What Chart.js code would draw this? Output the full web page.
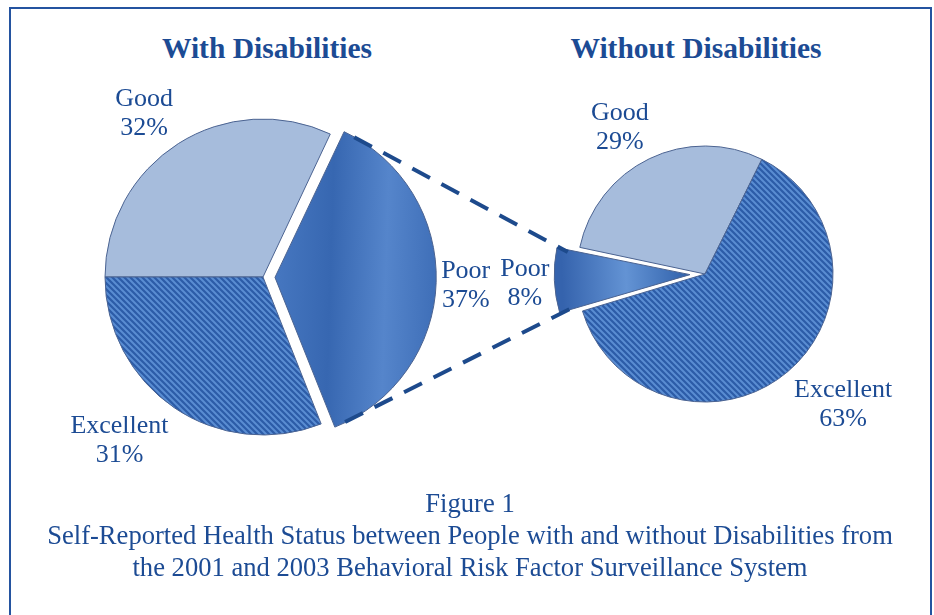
<!DOCTYPE html>
<html lang="en">
<head>
<meta charset="UTF-8">
<title>Self-Reported Health Status</title>
<script src="https://cdn.jsdelivr.net/npm/chart.js"></script>
<style>
  body { margin: 0; background: #fff; font-family: 'Liberation Serif', 'Times New Roman', serif; color: #1c4b94; }
  #page { position: relative; width: 934px; height: 615px; overflow: hidden; }
  #frame { position: absolute; left: 9px; top: 7px; width: 919px; height: 650px; border: 2px solid #2453a0; border-bottom: none; }
  .layer { position: absolute; left: 0; top: 0; width: 934px; height: 615px; }
  .title { position: absolute; top: 32px; font-size: 29.5px; font-weight: bold; white-space: nowrap; transform: translateX(-50%); }
  #caption { position: absolute; left: 9px; width: 922px; top: 487px; text-align: center; font-size: 26.6px; line-height: 32px; }
</style>
</head>
<body>
<div id="page">
  <div id="frame"></div>
  <div class="title" style="left:267px">With Disabilities</div>
  <div class="title" style="left:696px">Without Disabilities</div>
  <div class="layer"><canvas id="leftPie"></canvas></div>
  <div class="layer"><canvas id="rightPie"></canvas></div>
  <div id="caption">Figure 1<br>Self-Reported Health Status between People with and without Disabilities from<br>the 2001 and 2003 Behavioral Risk Factor Surveillance System</div>
</div>

<script>
  // data, clockwise from the start angle of each pie
  const withLabels = ['Good', 'Poor', 'Excellent'];
  const withValues = [32, 37, 31];
  const withoutLabels = ['Good', 'Excellent', 'Poor'];
  const withoutValues = [29, 63, 8];

  const textColor = '#1c4b94';
  const goodColor = '#a6bcdc';
  const edgeColor = '#4b6391';

  // diagonal hatch used for "Excellent"
  function makeHatch() {
    const c = document.createElement('canvas');
    c.width = 6; c.height = 6;
    const g = c.getContext('2d');
    g.fillStyle = '#2c5ca8';
    g.fillRect(0, 0, 6, 6);
    g.strokeStyle = '#5a8dd2';
    g.lineWidth = 2;
    g.beginPath();
    g.moveTo(-3, -3); g.lineTo(9, 9);
    g.moveTo(-3, 3); g.lineTo(3, 9);
    g.moveTo(3, -3); g.lineTo(9, 3);
    g.stroke();
    return g.createPattern(c, 'repeat');
  }
  const hatch = makeHatch();

  function midAngle(chart, index) {
    const data = chart.data.datasets[0].data;
    const total = data.reduce((a, b) => a + b, 0);
    let start = (chart.options.rotation - 90) * Math.PI / 180;
    for (let i = 0; i < index; i++) start += data[i] / total * 2 * Math.PI;
    return start + data[index] / total * Math.PI;
  }

  function fillFor(stops) {
    return function (ctx) {
      const chart = ctx.chart;
      const name = chart.data.labels[ctx.dataIndex];
      if (name === 'Good') return goodColor;
      if (name === 'Excellent') return hatch;
      const area = chart.chartArea;
      if (!area) return '#4a7cc4';
      const cx = (area.left + area.right) / 2;
      const cy = (area.top + area.bottom) / 2;
      const r = chart.options.radius;
      const a = midAngle(chart, ctx.dataIndex);
      const grad = chart.ctx.createLinearGradient(cx, cy, cx + Math.cos(a) * r, cy + Math.sin(a) * r);
      stops.forEach(s => grad.addColorStop(s[0], s[1]));
      return grad;
    };
  }

  const clamp1 = v => Math.max(-1, Math.min(1, v));

  // how far an exploded slice is pushed out, and how much its radius grows
  function explode(arc) {
    const t = (arc.options.offset || 0) / 4;
    const fix = 1 - Math.sin(Math.min(Math.PI, arc.circumference));
    return { t: t, grow: t * fix };
  }

  // "Good / 32%" labels just outside each slice
  const sliceLabels = {
    id: 'sliceLabels',
    afterDatasetsDraw(chart) {
      const ctx = chart.ctx;
      const meta = chart.getDatasetMeta(0);
      const values = chart.data.datasets[0].data;
      ctx.save();
      ctx.font = '26px "Liberation Serif", "Times New Roman", serif';
      ctx.fillStyle = textColor;
      ctx.textAlign = 'center';
      ctx.textBaseline = 'alphabetic';
      meta.data.forEach((arc, i) => {
        const lines = [chart.data.labels[i], values[i] + '%'];
        const w = Math.max(...lines.map(s => ctx.measureText(s).width));
        const h = 47;
        const mid = (arc.startAngle + arc.endAngle) / 2;
        const cos = Math.cos(mid), sin = Math.sin(mid);
        const ex = explode(arc);
        const dist = arc.outerRadius + ex.t + ex.grow + (ex.t ? 5 : 10);
        const bx = arc.x + cos * dist + w / 2 * clamp1(cos * 2);
        const by = arc.y + sin * dist + h / 2 * clamp1(sin * 2);
        ctx.fillText(lines[0], bx, by - 6);
        ctx.fillText(lines[1], bx, by + 23);
      });
      ctx.restore();
    }
  };

  function corners(arc) {
    const mid = (arc.startAngle + arc.endAngle) / 2;
    const ex = explode(arc);
    const r = arc.outerRadius + ex.grow;
    const ox = arc.x + Math.cos(mid) * ex.t, oy = arc.y + Math.sin(mid) * ex.t;
    return [arc.startAngle, arc.endAngle]
      .map(a => ({ x: ox + Math.cos(a) * r, y: oy + Math.sin(a) * r }))
      .sort((p, q) => p.y - q.y);
  }

  function pieConfig(labels, values, rotation, radius, padding, offsets, stops, plugins) {
    return {
      type: 'pie',
      data: {
        labels: labels,
        datasets: [{
          data: values,
          backgroundColor: fillFor(stops),
          borderColor: edgeColor,
          borderWidth: 1,
          offset: offsets,
          hoverOffset: 0
        }]
      },
      options: {
        responsive: true,
        maintainAspectRatio: false,
        animation: false,
        events: [],
        rotation: rotation,
        radius: radius,
        layout: { padding: padding },
        plugins: { legend: { display: false }, tooltip: { enabled: false } }
      },
      plugins: plugins
    };
  }

  const leftChart = new Chart(document.getElementById('leftPie'), pieConfig(
    withLabels, withValues, 270, 158,
    { left: 0, right: 408, top: 0, bottom: 61 },
    withLabels.map(n => n === 'Poor' ? 48 : 0),
    [[0, '#4677c0'], [0.35, '#3767b1'], [0.7, '#5585cb'], [1, '#4070b9']],
    [sliceLabels]
  ));

  // dashed lines joining the two exploded "Poor" slices
  const connector = {
    id: 'connector',
    afterDraw(chart) {
      const a = corners(leftChart.getDatasetMeta(0).data[withLabels.indexOf('Poor')]);
      const b = corners(chart.getDatasetMeta(0).data[withoutLabels.indexOf('Poor')]);
      const ctx = chart.ctx;
      ctx.save();
      ctx.strokeStyle = '#1d4a8c';
      ctx.lineWidth = 4;
      ctx.setLineDash([20, 13]);
      [0, 1].forEach(k => {
        const p = a[k], q = b[k];
        const len = Math.hypot(q.x - p.x, q.y - p.y);
        const ux = (q.x - p.x) / len, uy = (q.y - p.y) / len;
        ctx.beginPath();
        ctx.moveTo(p.x + ux * 12, p.y + uy * 12);
        ctx.lineTo(q.x + ux * 12, q.y + uy * 12);
        ctx.stroke();
      });
      ctx.restore();
    }
  };

  const rightChart = new Chart(document.getElementById('rightPie'), pieConfig(
    withoutLabels, withoutValues, -78, 128,
    { left: 476, right: 0, top: 0, bottom: 67 },
    withoutLabels.map(n => n === 'Poor' ? 60 : 0),
    [[0, '#2f60aa'], [0.5, '#6393d4'], [1, '#3563ad']],
    [sliceLabels, connector]
  ));
</script>
</body>
</html>
